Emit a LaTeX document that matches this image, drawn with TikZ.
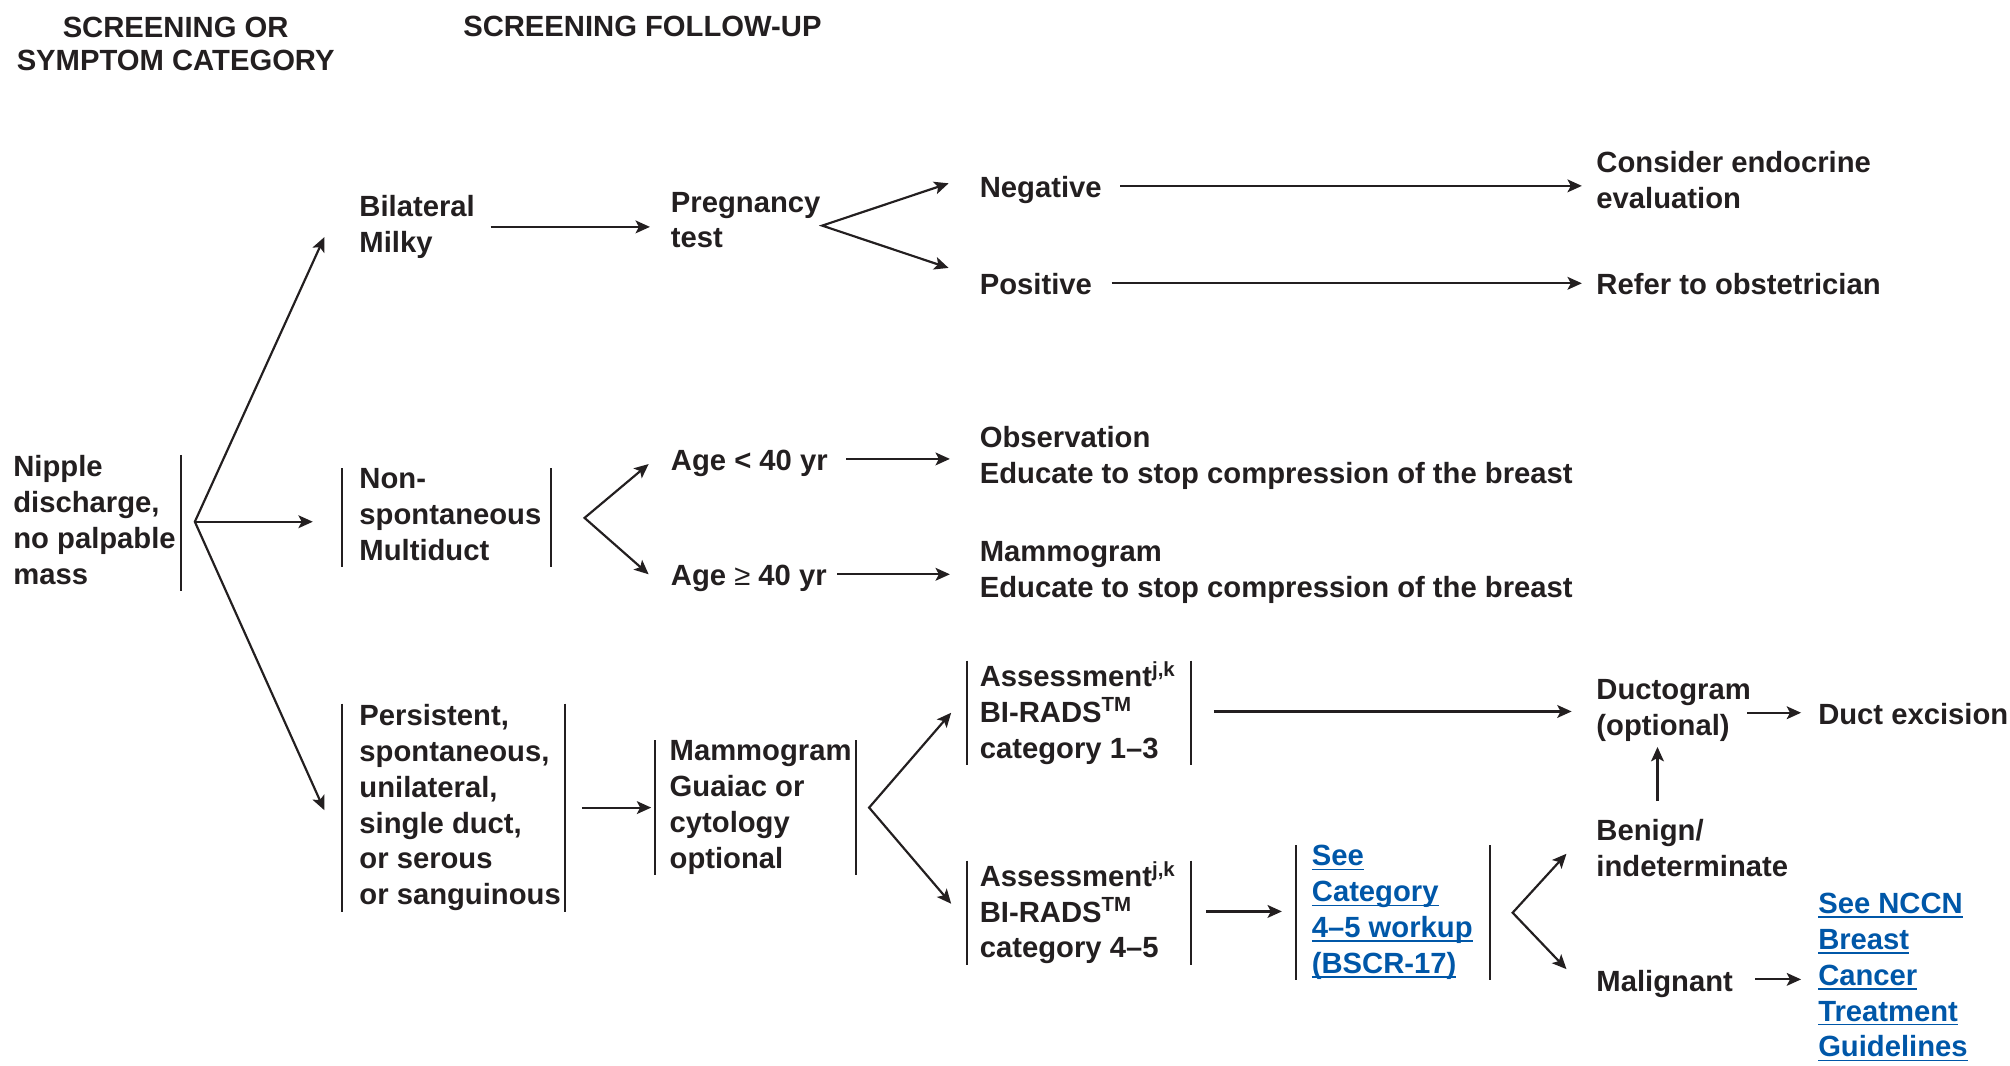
\documentclass[tikz,border=0pt]{standalone}
\usepackage{fontspec}
\setmainfont{Liberation Sans}
\newfontfamily\symfont{Liberation Sans}
\usetikzlibrary{arrows.meta,calc}
\definecolor{ink}{RGB}{35,31,32}
\definecolor{linkblue}{RGB}{0,87,168}
% underlined link text: rule at a fixed depth under the baseline
\newsavebox\lnkbox
\newcommand\lnk[1]{\sbox\lnkbox{#1}\rlap{\rule[-1.7pt]{\wd\lnkbox}{0.65pt}}\usebox\lnkbox}
% fixed top and bottom of a text block (14pt per line)
\newcommand\topstrut{\rule{0pt}{11.55pt}}
\newcommand\botstrut{\rule[-2.45pt]{0pt}{2.45pt}}
\begin{document}
\begin{tikzpicture}[x=0.5pt,y=-0.5pt,
  >={Stealth[length=5.6pt,width=5pt,inset=1.3pt]},
  txt/.style={inner sep=0pt, anchor=west, align=left, text=ink,
    font=\bfseries\fontsize{11.4}{14}\selectfont,
    execute at begin node=\topstrut, execute at end node=\botstrut},
  hdr/.style={inner sep=0pt, align=center, text=ink,
    font=\bfseries\fontsize{11.4}{12.8}\selectfont},
  link/.style={txt, text=linkblue},
  arr/.style={draw=ink, line width=0.85pt, ->},
  arrtwo/.style={draw=ink, line width=0.85pt, <->, line join=miter},
  vbar/.style={draw=ink, line width=0.8pt}
]
\useasboundingbox (0,0) rectangle (1568,831);

% column headings
\node[hdr] (hdrA) at (137,34) {SCREENING OR\\SYMPTOM CATEGORY};
\node[hdr, anchor=west] (hdrB) at (361,21) {SCREENING FOLLOW-UP};

% nodes
\node[txt] (root) at (10,408) {Nipple\\discharge,\\no palpable\\mass};
\node[txt] (bilat) at (280,177) {Bilateral\\Milky};
\node[txt] (preg) at (523,174) {Pregnancy\\test};
\node[txt] (neg) at (764,145) {Negative};
\node[txt] (pos) at (764,221) {Positive};
\node[txt] (endo) at (1245,143) {Consider endocrine\\evaluation};
\node[txt] (obst) at (1245,221) {Refer to obstetrician};

\node[txt] (nonsp) at (280,404) {Non-\\spontaneous\\Multiduct};
\node[txt] (young) at (523,358) {Age < 40 yr};
\node[txt] (old) at (523,448) {Age {\symfont\mdseries ≥} 40 yr};
\node[txt] (obs) at (764,357) {Observation\\Educate to stop compression of the breast};
\node[txt] (mamm) at (764,447) {Mammogram\\Educate to stop compression of the breast};

\node[txt] (pers) at (280,630) {Persistent,\\spontaneous,\\unilateral,\\single duct,\\or serous\\or sanguinous};
\node[txt] (guai) at (522,630) {Mammogram\\Guaiac or\\cytology\\optional};
\node[txt] (low) at (764,556) {Assessment\textsuperscript{j,k}\\BI-RADS\textsuperscript{TM}\\category 1–3};
\node[txt] (high) at (764,712) {Assessment\textsuperscript{j,k}\\BI-RADS\textsuperscript{TM}\\category 4–5};
\node[txt] (duct) at (1245,554) {Ductogram\\(optional)};
\node[txt] (exc) at (1418,556) {Duct excision};
\node[link] (work) at (1023,712) {\lnk{See}\\\lnk{Category}\\\lnk{4–5 workup}\\\lnk{(BSCR-17)}};
\node[txt] (benign) at (1245,664) {Benign/\\indeterminate};
\node[txt] (malig) at (1245,764) {Malignant};
\node[link] (nccn) at (1418,763) {\lnk{See NCCN}\\\lnk{Breast}\\\lnk{Cancer}\\\lnk{Treatment}\\\lnk{Guidelines}};

% side bars
\draw[vbar] (141,0 |- root.north) -- (141,0 |- root.south);
\draw[vbar] (267,0 |- nonsp.north) -- (267,0 |- nonsp.south);
\draw[vbar] (430,0 |- nonsp.north) -- (430,0 |- nonsp.south);
\draw[vbar] (267,0 |- pers.north) -- (267,0 |- pers.south);
\draw[vbar] (441,0 |- pers.north) -- (441,0 |- pers.south);
\draw[vbar] (511,0 |- guai.north) -- (511,0 |- guai.south);
\draw[vbar] (668,0 |- guai.north) -- (668,0 |- guai.south);
\draw[vbar] (754,0 |- low.north) -- (754,0 |- low.south);
\draw[vbar] (929,0 |- low.north) -- (929,0 |- low.south);
\draw[vbar] (754,0 |- high.north) -- (754,0 |- high.south);
\draw[vbar] (929,0 |- high.north) -- (929,0 |- high.south);
\draw[vbar] (1011,0 |- work.north) -- (1011,0 |- work.south);
\draw[vbar] (1162,0 |- work.north) -- (1162,0 |- work.south);

% branch points
\coordinate (f0) at (152,407);
\coordinate (f1) at ($(preg.east)+(1,2)$);
\coordinate (f2) at (456,404);
\coordinate (f3) at (678,630);
\coordinate (f4) at (1180,712);

% connectors
\draw[arrtwo] ($(bilat.west)+(-27,8)$) -- (f0) -- ($(pers.west)+(-27,2)$);
\draw[arr] (f0) -- ($(f0 -| nonsp.west)+(-36,0)$);

\draw[arr] ($(bilat.east)+(12,0)$) -- ($(bilat.east -| preg.west)+(-16,0)$);
\draw[arrtwo] ($(neg.west)+(-24,-2)$) -- (f1) -- ($(pos.west)+(-24,-12)$);
\draw[arr] ($(neg.east)+(14,0)$) -- ($(neg.east -| endo.west)+(-11,0)$);
\draw[arr] ($(pos.east)+(15,0)$) -- ($(pos.east -| obst.west)+(-11,0)$);

\draw[arrtwo] ($(young.west)+(-17,4)$) -- (f2) -- ($(old.west)+(-17,0)$);
\draw[arr] ($(young.east)+(14,0)$) -- ($(young.east -| obs.west)+(-23,0)$);
\draw[arr] ($(old.east)+(8,0)$) -- ($(old.east -| mamm.west)+(-23,0)$);

\draw[arr] ($(pers.east)+(16,0)$) -- ($(pers.east -| guai.west)+(-14,0)$);
\draw[arrtwo] ($(low.west)+(-22,0)$) -- (f3) -- ($(high.west)+(-22,-7)$);
\draw[arr] ($(low.east)+(29,-1)$) -- ($(low.east -| duct.west)+(-19,-1)$);
\draw[arr] ($(duct.east |- exc.west)+(-3,0)$) -- ($(exc.west)+(-13,0)$);
\draw[arr] ($(high.east)+(23,-1)$) -- ($(high.east -| work.west)+(-23,-1)$);
\draw[arrtwo] ($(benign.west)+(-23,2)$) -- (f4) -- ($(malig.west)+(-23,-8)$);
\draw[arr] ($(benign.north west)+(48,-14)$) -- ($(duct.south west)+(48,4)$);
\draw[arr] ($(malig.east)+(17,0)$) -- ($(malig.east -| nccn.west)+(-13,0)$);
\end{tikzpicture}
\end{document}
